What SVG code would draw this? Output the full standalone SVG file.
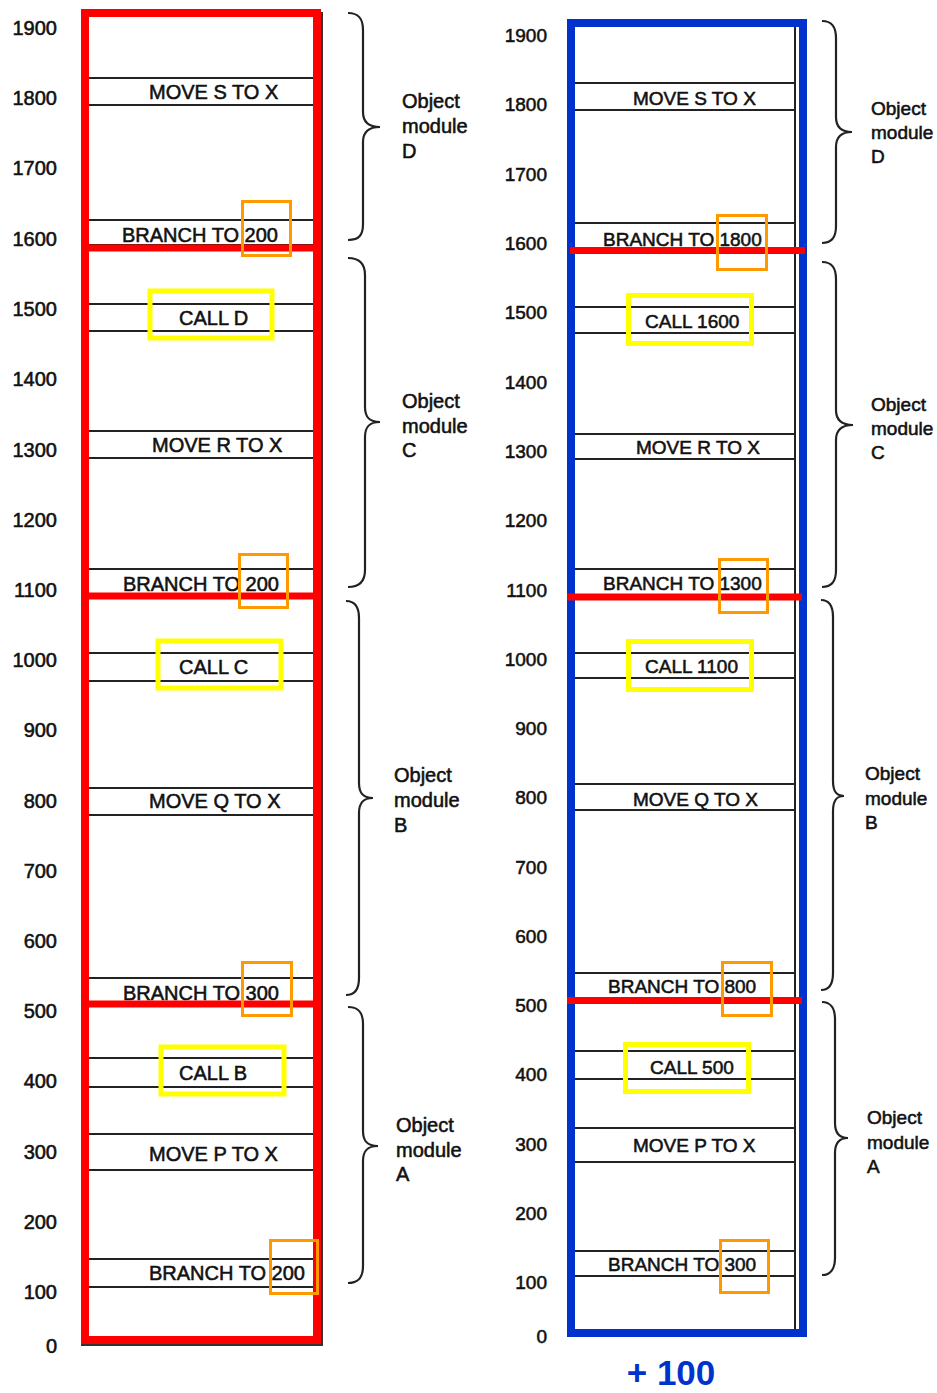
<svg xmlns="http://www.w3.org/2000/svg" width="937" height="1393" viewBox="0 0 937 1393">
<style>
text{font-family:"Liberation Sans",Arial,sans-serif;fill:#111;stroke:#111;stroke-width:0.55}
.l{font-size:20px}
.r{font-size:19px}
.ax{text-anchor:end}
.row line{stroke:#222;stroke-width:2}
.brace{fill:none;stroke:#222;stroke-width:2.2}
.org{fill:none;stroke:#FF9900;stroke-width:3}
.yel{fill:none;stroke:#FFFF00;stroke-width:5}
.red{stroke:#FF0000;stroke-width:7}
.plus{font-size:35px;font-weight:bold;fill:#0033CC;stroke:none;text-anchor:middle}
</style>
<rect width="937" height="1393" fill="#fff"/>

<!-- left axis -->
<g id="left-axis">
<text x="57" y="35" class="l ax">1900</text>
<text x="57" y="105" class="l ax">1800</text>
<text x="57" y="175" class="l ax">1700</text>
<text x="57" y="246" class="l ax">1600</text>
<text x="57" y="316" class="l ax">1500</text>
<text x="57" y="386" class="l ax">1400</text>
<text x="57" y="457" class="l ax">1300</text>
<text x="57" y="527" class="l ax">1200</text>
<text x="57" y="597" class="l ax">1100</text>
<text x="57" y="667" class="l ax">1000</text>
<text x="57" y="737" class="l ax">900</text>
<text x="57" y="808" class="l ax">800</text>
<text x="57" y="878" class="l ax">700</text>
<text x="57" y="948" class="l ax">600</text>
<text x="57" y="1018" class="l ax">500</text>
<text x="57" y="1088" class="l ax">400</text>
<text x="57" y="1159" class="l ax">300</text>
<text x="57" y="1229" class="l ax">200</text>
<text x="57" y="1299" class="l ax">100</text>
<text x="57" y="1353" class="l ax">0</text>
</g>

<!-- right axis -->
<g id="right-axis">
<text x="547" y="42" class="r ax">1900</text>
<text x="547" y="111" class="r ax">1800</text>
<text x="547" y="181" class="r ax">1700</text>
<text x="547" y="250" class="r ax">1600</text>
<text x="547" y="319" class="r ax">1500</text>
<text x="547" y="389" class="r ax">1400</text>
<text x="547" y="458" class="r ax">1300</text>
<text x="547" y="527" class="r ax">1200</text>
<text x="547" y="597" class="r ax">1100</text>
<text x="547" y="666" class="r ax">1000</text>
<text x="547" y="735" class="r ax">900</text>
<text x="547" y="804" class="r ax">800</text>
<text x="547" y="874" class="r ax">700</text>
<text x="547" y="943" class="r ax">600</text>
<text x="547" y="1012" class="r ax">500</text>
<text x="547" y="1081" class="r ax">400</text>
<text x="547" y="1151" class="r ax">300</text>
<text x="547" y="1220" class="r ax">200</text>
<text x="547" y="1289" class="r ax">100</text>
<text x="547" y="1343" class="r ax">0</text>
</g>

<!-- left memory frame (original black border) -->
<g id="left-frame-black">
<line x1="322" y1="12" x2="322" y2="1346" stroke="#333" stroke-width="2"/>
<line x1="81" y1="1345" x2="322" y2="1345" stroke="#333" stroke-width="2"/>
</g>

<!-- left rows -->
<g id="L-moveS" class="row"><line x1="89" y1="78" x2="313" y2="78"/><line x1="89" y1="105" x2="313" y2="105"/><text x="149" y="99" class="l">MOVE S TO X</text></g>
<g id="L-branchD" class="row"><line x1="89" y1="220" x2="313" y2="220"/><line x1="89" y1="245" x2="313" y2="245"/><text x="122" y="242" class="l">BRANCH TO 200</text></g>
<g id="L-callD" class="row"><line x1="89" y1="304" x2="313" y2="304"/><line x1="89" y1="331" x2="313" y2="331"/><text x="179" y="325" class="l">CALL D</text></g>
<g id="L-moveR" class="row"><line x1="89" y1="431" x2="313" y2="431"/><line x1="89" y1="458" x2="313" y2="458"/><text x="152" y="452" class="l">MOVE R TO X</text></g>
<g id="L-branchC" class="row"><line x1="89" y1="569" x2="313" y2="569"/><text x="123" y="591" class="l">BRANCH TO 200</text></g>
<g id="L-callC" class="row"><line x1="89" y1="653" x2="313" y2="653"/><line x1="89" y1="681" x2="313" y2="681"/><text x="179" y="674" class="l">CALL C</text></g>
<g id="L-moveQ" class="row"><line x1="89" y1="788" x2="313" y2="788"/><line x1="89" y1="815" x2="313" y2="815"/><text x="149" y="808" class="l">MOVE Q TO X</text></g>
<g id="L-branchB" class="row"><line x1="89" y1="978" x2="313" y2="978"/><text x="123" y="1000" class="l">BRANCH TO 300</text></g>
<g id="L-callB" class="row"><line x1="89" y1="1058" x2="313" y2="1058"/><line x1="89" y1="1087" x2="313" y2="1087"/><text x="179" y="1080" class="l">CALL B</text></g>
<g id="L-moveP" class="row"><line x1="89" y1="1134" x2="313" y2="1134"/><line x1="89" y1="1170" x2="313" y2="1170"/><text x="149" y="1161" class="l">MOVE P TO X</text></g>
<g id="L-branchA" class="row"><line x1="89" y1="1259" x2="313" y2="1259"/><line x1="89" y1="1287" x2="313" y2="1287"/><text x="149" y="1280" class="l">BRANCH TO 200</text></g>

<!-- left red frame and module boundaries -->
<g id="left-frame">
<rect x="85" y="13" width="232" height="1327" fill="none" stroke="#FF0000" stroke-width="8"/>
<line x1="81" y1="248" x2="321" y2="248" class="red"/>
<line x1="81" y1="596" x2="321" y2="596" class="red"/>
<line x1="81" y1="1004" x2="321" y2="1004" class="red"/>
</g>

<!-- right black memory frame -->
<g id="right-frame-black">
<line x1="795" y1="26" x2="795" y2="1330" stroke="#222" stroke-width="2"/>
</g>

<!-- right rows -->
<g id="R-moveS" class="row"><line x1="575" y1="83" x2="795" y2="83"/><line x1="575" y1="110" x2="795" y2="110"/><text x="633" y="105" class="r">MOVE S TO X</text></g>
<g id="R-branchD" class="row"><line x1="575" y1="223" x2="795" y2="223"/><text x="603" y="246" class="r">BRANCH TO 1800</text></g>
<g id="R-callD" class="row"><line x1="575" y1="307" x2="795" y2="307"/><line x1="575" y1="333" x2="795" y2="333"/><text x="645" y="328" class="r">CALL 1600</text></g>
<g id="R-moveR" class="row"><line x1="575" y1="434" x2="795" y2="434"/><line x1="575" y1="459" x2="795" y2="459"/><text x="636" y="454" class="r">MOVE R TO X</text></g>
<g id="R-branchC" class="row"><line x1="575" y1="569" x2="795" y2="569"/><text x="603" y="590" class="r">BRANCH TO 1300</text></g>
<g id="R-callC" class="row"><line x1="575" y1="653" x2="795" y2="653"/><line x1="575" y1="678" x2="795" y2="678"/><text x="645" y="673" class="r">CALL 1100</text></g>
<g id="R-moveQ" class="row"><line x1="575" y1="784" x2="795" y2="784"/><line x1="575" y1="810" x2="795" y2="810"/><text x="633" y="806" class="r">MOVE Q TO X</text></g>
<g id="R-branchB" class="row"><line x1="575" y1="973" x2="795" y2="973"/><text x="608" y="993" class="r">BRANCH TO 800</text></g>
<g id="R-callB" class="row"><line x1="575" y1="1051" x2="795" y2="1051"/><line x1="575" y1="1079" x2="795" y2="1079"/><text x="650" y="1074" class="r">CALL 500</text></g>
<g id="R-moveP" class="row"><line x1="575" y1="1128" x2="795" y2="1128"/><line x1="575" y1="1162" x2="795" y2="1162"/><text x="633" y="1152" class="r">MOVE P TO X</text></g>
<g id="R-branchA" class="row"><line x1="575" y1="1251" x2="795" y2="1251"/><line x1="575" y1="1276" x2="795" y2="1276"/><text x="608" y="1271" class="r">BRANCH TO 300</text></g>

<!-- right blue frame and module boundaries -->
<g id="right-frame">
<rect x="571" y="23" width="232" height="1310" fill="none" stroke="#0033CC" stroke-width="8"/>
<line x1="570" y1="250.5" x2="805" y2="250.5" class="red"/>
<line x1="567" y1="597" x2="802" y2="597" class="red"/>
<line x1="567" y1="1000.5" x2="802" y2="1000.5" class="red"/>
</g>

<!-- highlight boxes -->
<g id="left-highlights">
<rect x="242.5" y="201.5" width="48" height="54" class="org"/>
<rect x="239.5" y="554.5" width="48" height="53" class="org"/>
<rect x="242.5" y="962.5" width="49" height="53" class="org"/>
<rect x="270.5" y="1240.5" width="47" height="53" class="org"/>
<rect x="150" y="291" width="122" height="47" class="yel"/>
<rect x="158" y="641" width="123" height="47" class="yel"/>
<rect x="161" y="1047" width="123" height="47" class="yel"/>
</g>
<g id="right-highlights">
<rect x="717.5" y="215.5" width="49" height="54" class="org"/>
<rect x="719.5" y="559.5" width="48" height="53" class="org"/>
<rect x="722.5" y="962.5" width="49" height="53" class="org"/>
<rect x="720.5" y="1240.5" width="48" height="52" class="org"/>
<rect x="628.5" y="295.5" width="123" height="48" class="yel"/>
<rect x="628.5" y="641.5" width="123" height="48" class="yel"/>
<rect x="625.5" y="1044.5" width="123" height="47" class="yel"/>
</g>

<!-- braces -->
<g id="braces">
<path class="brace" d="M348,13 C360,13 363,20 363,30 L363,112 C363,122 368,127 380,127 C368,127 363,132 363,142 L363,224 C363,234 360,240 348,240"/>
<path class="brace" d="M348,258 C360,258 365,265 365,275 L365,407 C365,417 369,422 380,422 C369,422 365,427 365,437 L365,570 C365,580 360,587 348,587"/>
<path class="brace" d="M346,601 C356,601 359,608 359,618 L359,783 C359,793 363,798 373,798 C363,798 359,803 359,813 L359,978 C359,988 356,995 346,995"/>
<path class="brace" d="M348,1007 C360,1007 363,1014 363,1024 L363,1131 C363,1141 367,1146 378,1146 C367,1146 363,1151 363,1161 L363,1266 C363,1276 360,1283 348,1283"/>
<path class="brace" d="M822,21 C833,21 836,28 836,38 L836,117 C836,127 841,132 852,132 C841,132 836,137 836,147 L836,226 C836,236 833,243 822,243"/>
<path class="brace" d="M822,262 C833,262 836,269 836,279 L836,410 C836,420 842,425 853,425 C842,425 836,430 836,440 L836,570 C836,580 833,587 822,587"/>
<path class="brace" d="M821,600 C830,600 833,607 833,617 L833,781 C833,791 836,796 844,796 C836,796 833,801 833,811 L833,973 C833,983 830,990 821,990"/>
<path class="brace" d="M822,1002 C831,1002 835,1009 835,1019 L835,1123 C835,1133 839,1138 848,1138 C839,1138 835,1143 835,1153 L835,1258 C835,1268 831,1275 822,1275"/>
</g>

<!-- module labels -->
<g id="label-L-D"><text x="402" y="108" class="l">Object</text><text x="402" y="133" class="l">module</text><text x="402" y="158" class="l">D</text></g>
<g id="label-L-C"><text x="402" y="408" class="l">Object</text><text x="402" y="433" class="l">module</text><text x="402" y="457" class="l">C</text></g>
<g id="label-L-B"><text x="394" y="782" class="l">Object</text><text x="394" y="807" class="l">module</text><text x="394" y="832" class="l">B</text></g>
<g id="label-L-A"><text x="396" y="1132" class="l">Object</text><text x="396" y="1157" class="l">module</text><text x="396" y="1181" class="l">A</text></g>
<g id="label-R-D"><text x="871" y="115" class="r">Object</text><text x="871" y="139" class="r">module</text><text x="871" y="163" class="r">D</text></g>
<g id="label-R-C"><text x="871" y="411" class="r">Object</text><text x="871" y="435" class="r">module</text><text x="871" y="459" class="r">C</text></g>
<g id="label-R-B"><text x="865" y="780" class="r">Object</text><text x="865" y="805" class="r">module</text><text x="865" y="829" class="r">B</text></g>
<g id="label-R-A"><text x="867" y="1124" class="r">Object</text><text x="867" y="1149" class="r">module</text><text x="867" y="1173" class="r">A</text></g>

<g id="offset-label"><text x="671" y="1385" class="plus">+ 100</text></g>
</svg>
